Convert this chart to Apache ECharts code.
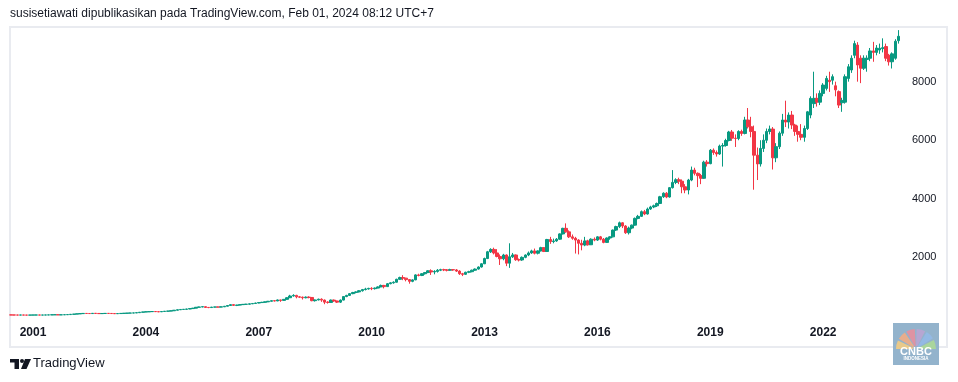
<!DOCTYPE html>
<html><head><meta charset="utf-8">
<script src="https://cdn.jsdelivr.net/npm/echarts@6/dist/echarts.min.js"></script>
<style>html,body{margin:0;padding:0;background:#fff;}#c{width:958px;height:382px;}</style>
</head><body><div id="c"></div>
<script>
// Monthly candles, first candle June 2000, last January 2024
const startYear = 2000, startMonth = 6;
const tickYears = ['2001','2004','2007','2010','2013','2016','2019','2022'];
const yTicks = [2000, 4000, 6000, 8000];

const opens = [
  34,32,30,29,31,28,27,
  29,30,31,29,30,32,35,38,40,36,38,42,
  45,55,62,70,78,85,82,80,88,84,78,82,
  86,84,80,76,80,86,90,95,98,102,110,125,
  135,140,145,150,145,140,150,160,165,175,195,210,
  220,225,235,250,265,295,305,315,290,285,300,305,
  300,310,330,355,385,360,370,385,395,400,412,425,
  440,455,465,480,500,520,510,545,530,565,620,680,
  700,650,640,620,640,630,520,545,570,540,470,460,
  540,510,470,540,660,700,760,800,820,860,900,920,
  940,930,950,990,1040,1000,1100,1130,1150,1250,1310,1290,
  1240,1180,1230,1400,1380,1440,1480,1540,1500,1520,1560,1580,
  1570,1560,1580,1570,1530,1440,1420,1490,1510,1560,1600,1670,
  1780,1960,2190,2270,2150,2030,1950,2080,1800,2020,2080,1920,
  1910,2000,2080,2150,2220,2140,2220,2330,2200,2610,2540,2560,
  2620,2800,2990,2870,2700,2650,2590,2480,2420,2560,2430,2620,
  2590,2700,2620,2510,2660,2700,2930,3050,3180,3070,2840,3000,
  3100,3330,3400,3560,3480,3650,3720,3760,3840,4070,4190,4060,
  4380,4560,4650,4600,4410,4300,4640,4980,4870,4790,4700,5250,
  5200,5660,5580,5530,5800,5820,5990,6280,6070,6060,6300,6230,
  6690,6460,6300,5490,5190,5720,6000,6300,6380,5400,5780,6240,
  6690,6620,6860,6520,6300,6200,6100,6400,6860,7250,7430,7300,
  7600,7770,8050,8050,7860,7660,7280,7300,8110,8400,8900,9250,
  8800,8460,8760,8800,9050,9000,9080,9130,9200,8900,8680,8800,
  9400
];
const closes = [
  32,30,29,31,28,27,29,
  30,31,29,30,32,35,38,40,36,38,42,45,
  55,62,70,78,85,82,80,88,84,78,82,86,
  84,80,76,80,86,90,95,98,102,110,125,135,
  140,145,150,145,140,150,160,165,175,195,210,220,
  225,235,250,265,295,305,315,290,285,300,305,300,
  310,330,355,385,360,370,385,395,400,412,425,440,
  455,465,480,500,520,510,545,530,565,620,680,700,
  650,640,620,640,630,520,545,570,540,470,460,540,
  510,470,540,660,700,760,800,820,860,900,920,940,
  930,950,990,1040,1000,1100,1130,1150,1250,1310,1290,1240,
  1180,1230,1400,1380,1440,1480,1540,1500,1520,1560,1580,1570,
  1560,1580,1570,1530,1440,1420,1490,1510,1560,1600,1670,1780,
  1960,2190,2270,2150,2030,1950,2080,1800,2020,2080,1920,1910,
  2000,2080,2150,2220,2140,2220,2330,2200,2610,2540,2560,2620,
  2800,2990,2870,2700,2650,2590,2480,2420,2560,2430,2620,2590,
  2700,2620,2510,2660,2700,2930,3050,3180,3070,2840,3000,3100,
  3330,3400,3560,3480,3650,3720,3760,3840,4070,4190,4060,4380,
  4560,4650,4600,4410,4300,4640,4980,4870,4790,4700,5250,5200,
  5660,5580,5530,5800,5820,5990,6280,6070,6060,6300,6230,6690,
  6460,6300,5490,5190,5720,6000,6300,6380,5400,5780,6240,6690,
  6620,6860,6520,6300,6200,6100,6400,6970,7430,7430,7300,7600,
  7885,8110,8000,8170,7720,7200,7360,8170,8510,8800,9300,8570,
  8460,8800,8800,9050,9000,9150,9140,9160,8800,8680,8950,9380,
  9550
];
const lows = [
  30,28,27,28,27,25,26,
  28,29,28,27,29,31,34,36,33,35,37,41,
  44,53,60,68,75,78,76,78,80,70,76,80,
  80,76,70,74,78,84,88,92,95,100,108,122,
  130,136,140,138,130,135,146,155,160,170,190,205,
  212,220,230,240,260,288,298,270,265,275,290,292,
  295,305,325,350,340,335,360,375,385,392,405,418,
  430,440,450,472,492,495,505,480,520,560,610,660,
  600,610,560,600,600,500,490,530,480,400,420,445,
  480,440,440,530,640,680,740,770,800,830,870,900,
  880,900,940,980,940,990,1080,1100,1140,1230,1220,1180,
  1100,1150,1220,1350,1360,1410,1460,1400,1420,1480,1530,1530,
  1520,1540,1540,1500,1400,1360,1400,1460,1490,1540,1580,1650,
  1770,1940,2150,2100,2000,1740,1900,1700,1640,1980,1880,1860,
  1880,1970,2040,2120,2100,2100,2200,2180,2190,2460,2480,2530,
  2600,2780,2840,2660,2600,2130,2100,2240,2380,2400,2420,2550,
  2560,2580,2480,2490,2600,2680,2900,3000,3000,2800,2780,2960,
  3080,3300,3380,3440,3460,3620,3680,3720,3820,4030,4020,4040,
  4350,4500,4500,4190,4190,4150,4600,4800,4400,4500,4680,5100,
  5180,5500,5440,5500,5100,5780,5960,5980,5770,6000,6150,6200,
  6400,6100,4310,4640,5100,5600,5900,6200,5000,5250,5700,6150,
  6450,6400,6380,6150,5950,6000,5950,6350,6750,7100,7150,7200,
  7500,7700,7650,7900,7500,7100,6970,7250,8000,8300,8800,8000,
  7950,8400,8340,8700,8680,8900,8950,9000,8700,8550,8450,8750,
  9300
];
const highs = [
  36,33,31,32,32,29,30,
  32,33,32,31,34,37,40,42,41,40,44,48,
  58,65,73,82,90,88,86,92,90,86,85,90,
  90,86,82,84,90,94,98,102,108,115,130,140,
  148,150,158,156,150,155,165,170,180,200,215,228,
  232,242,258,272,300,315,325,320,298,308,312,315,
  320,338,362,395,400,378,392,402,410,420,435,450,
  465,480,488,510,530,528,560,550,575,640,720,740,
  720,680,660,665,670,640,560,590,600,560,500,560,
  560,520,560,670,720,780,820,840,880,920,960,960,
  980,970,1010,1070,1060,1120,1150,1180,1270,1340,1390,1300,
  1260,1250,1420,1440,1460,1500,1560,1590,1560,1600,1610,1610,
  1600,1610,1600,1600,1560,1470,1510,1540,1580,1620,1690,1800,
  1990,2220,2310,2330,2280,2100,2120,2100,2480,2150,2100,1960,
  2030,2100,2200,2260,2300,2240,2360,2350,2630,2700,2640,2660,
  2820,3010,3160,2920,2780,2700,2620,2600,2700,2600,2650,2680,
  2720,2730,2660,2680,2720,2950,3080,3220,3200,3100,3050,3120,
  3360,3450,3600,3620,3700,3760,3800,3870,4100,4220,4230,4400,
  4980,4700,4720,4660,4500,4680,5100,5060,4900,4850,5300,5320,
  5700,5720,5650,5850,5900,6050,6320,6350,6200,6340,6360,6800,
  7100,6800,6500,5750,6000,6200,6400,6500,6450,5900,6300,6900,
  7350,6950,7000,6560,6500,6550,6500,7000,7500,8340,7600,7700,
  7950,8200,8340,8250,8000,7700,7450,8250,8600,8900,9400,9350,
  8900,8900,8900,9150,9360,9250,9300,9480,9300,8950,9000,9450,
  9760
];

const categories = opens.map((_, i) => {
  const m = startMonth - 1 + i;
  return (startYear + Math.floor(m / 12)) + '-' + String(m % 12 + 1).padStart(2, '0');
});
const candles = opens.map((o, i) => [o, closes[i], lows[i], highs[i]]);

const UP = '#089981', DOWN = '#f23645', TXT = '#131722';
const chart = echarts.init(document.getElementById('c'), null, {renderer: 'canvas'});
chart.setOption({
  animation: false,
  backgroundColor: '#ffffff',
  grid: {left: 9.5, right: 58, top: 28, bottom: 66.1},
  xAxis: {
    type: 'category', data: categories, boundaryGap: true,
    axisLine: {show: false}, axisTick: {show: false}, splitLine: {show: false},
    axisLabel: {
      interval: (i, v) => v.endsWith('-01') && tickYears.includes(v.slice(0, 4)),
      formatter: v => v.slice(0, 4),
      color: TXT, fontWeight: 'bold', fontSize: 12, fontFamily: 'Liberation Sans', margin: 11
    }
  },
  yAxis: {
    type: 'value', position: 'right', min: 0, max: 9833, interval: 2000,
    axisLine: {show: false}, axisTick: {show: false}, splitLine: {show: false},
    axisLabel: {
      formatter: v => yTicks.includes(v) ? String(v) : '',
      color: TXT, fontSize: 11, fontFamily: 'Liberation Sans', margin: 12, align: 'left'
    }
  },
  series: [{
    type: 'candlestick', data: candles, barWidth: 3, barMinWidth: 3,
    itemStyle: {color: UP, color0: DOWN, borderColor: UP, borderColor0: DOWN, borderColorDoji: UP, borderWidth: 1}
  }],
  graphic: [
    {type: 'text', left: 10, top: 8, silent: true,
     style: {text: 'susisetiawati dipublikasikan pada TradingView.com, Feb 01, 2024 08:12 UTC+7', fill: TXT, font: '12px "Liberation Sans"'}},
    {type: 'rect', silent: true, z: -10, shape: {x: 10, y: 27, width: 937, height: 320},
     style: {fill: 'none', stroke: '#e9ebf0', lineWidth: 2}},
    // TradingView logo
    {type: 'rect', silent: true, shape: {x: 10, y: 359, width: 9, height: 3.5}, style: {fill: TXT}},
    {type: 'rect', silent: true, shape: {x: 14.5, y: 359, width: 4.5, height: 10}, style: {fill: TXT}},
    {type: 'circle', silent: true, shape: {cx: 22, cy: 361, r: 2}, style: {fill: TXT}},
    {type: 'polygon', silent: true, shape: {points: [[25, 359], [31, 359], [26.5, 369], [21, 369]]}, style: {fill: TXT}},
    {type: 'text', silent: true, left: 33, top: 357, style: {text: 'TradingView', fill: TXT, font: '13px "Liberation Sans"'}},
    // CNBC Indonesia logo
    {type: 'rect', silent: true, shape: {x: 893, y: 323, width: 46, height: 42}, style: {fill: '#93b3cc'}},
    {type: 'group', silent: true, children: [
      {type: 'sector', shape: {cx: 916, cy: 349, r0: 3, r: 20, startAngle: Math.PI * 1.00, endAngle: Math.PI * 1.14}, style: {fill: '#e9c98a'}},
      {type: 'sector', shape: {cx: 916, cy: 349, r0: 3, r: 20, startAngle: Math.PI * 1.17, endAngle: Math.PI * 1.31}, style: {fill: '#e8ad8c'}},
      {type: 'sector', shape: {cx: 916, cy: 349, r0: 3, r: 20, startAngle: Math.PI * 1.34, endAngle: Math.PI * 1.48}, style: {fill: '#de93a3'}},
      {type: 'sector', shape: {cx: 916, cy: 349, r0: 3, r: 20, startAngle: Math.PI * 1.51, endAngle: Math.PI * 1.65}, style: {fill: '#b6a6d2'}},
      {type: 'sector', shape: {cx: 916, cy: 349, r0: 3, r: 20, startAngle: Math.PI * 1.68, endAngle: Math.PI * 1.82}, style: {fill: '#93b9e4'}},
      {type: 'sector', shape: {cx: 916, cy: 349, r0: 3, r: 20, startAngle: Math.PI * 1.85, endAngle: Math.PI * 2.00}, style: {fill: '#a9d59c'}}
    ]},
    {type: 'text', silent: true, x: 916, y: 352, style: {text: 'CNBC', fill: '#ffffff', font: 'bold 11px "Liberation Sans"', align: 'center', verticalAlign: 'middle'}},
    {type: 'text', silent: true, x: 916, y: 359, style: {text: 'INDONESIA', fill: '#ffffff', font: 'bold 4.5px "Liberation Sans"', align: 'center', verticalAlign: 'middle'}}
  ]
});
</script></body></html>
